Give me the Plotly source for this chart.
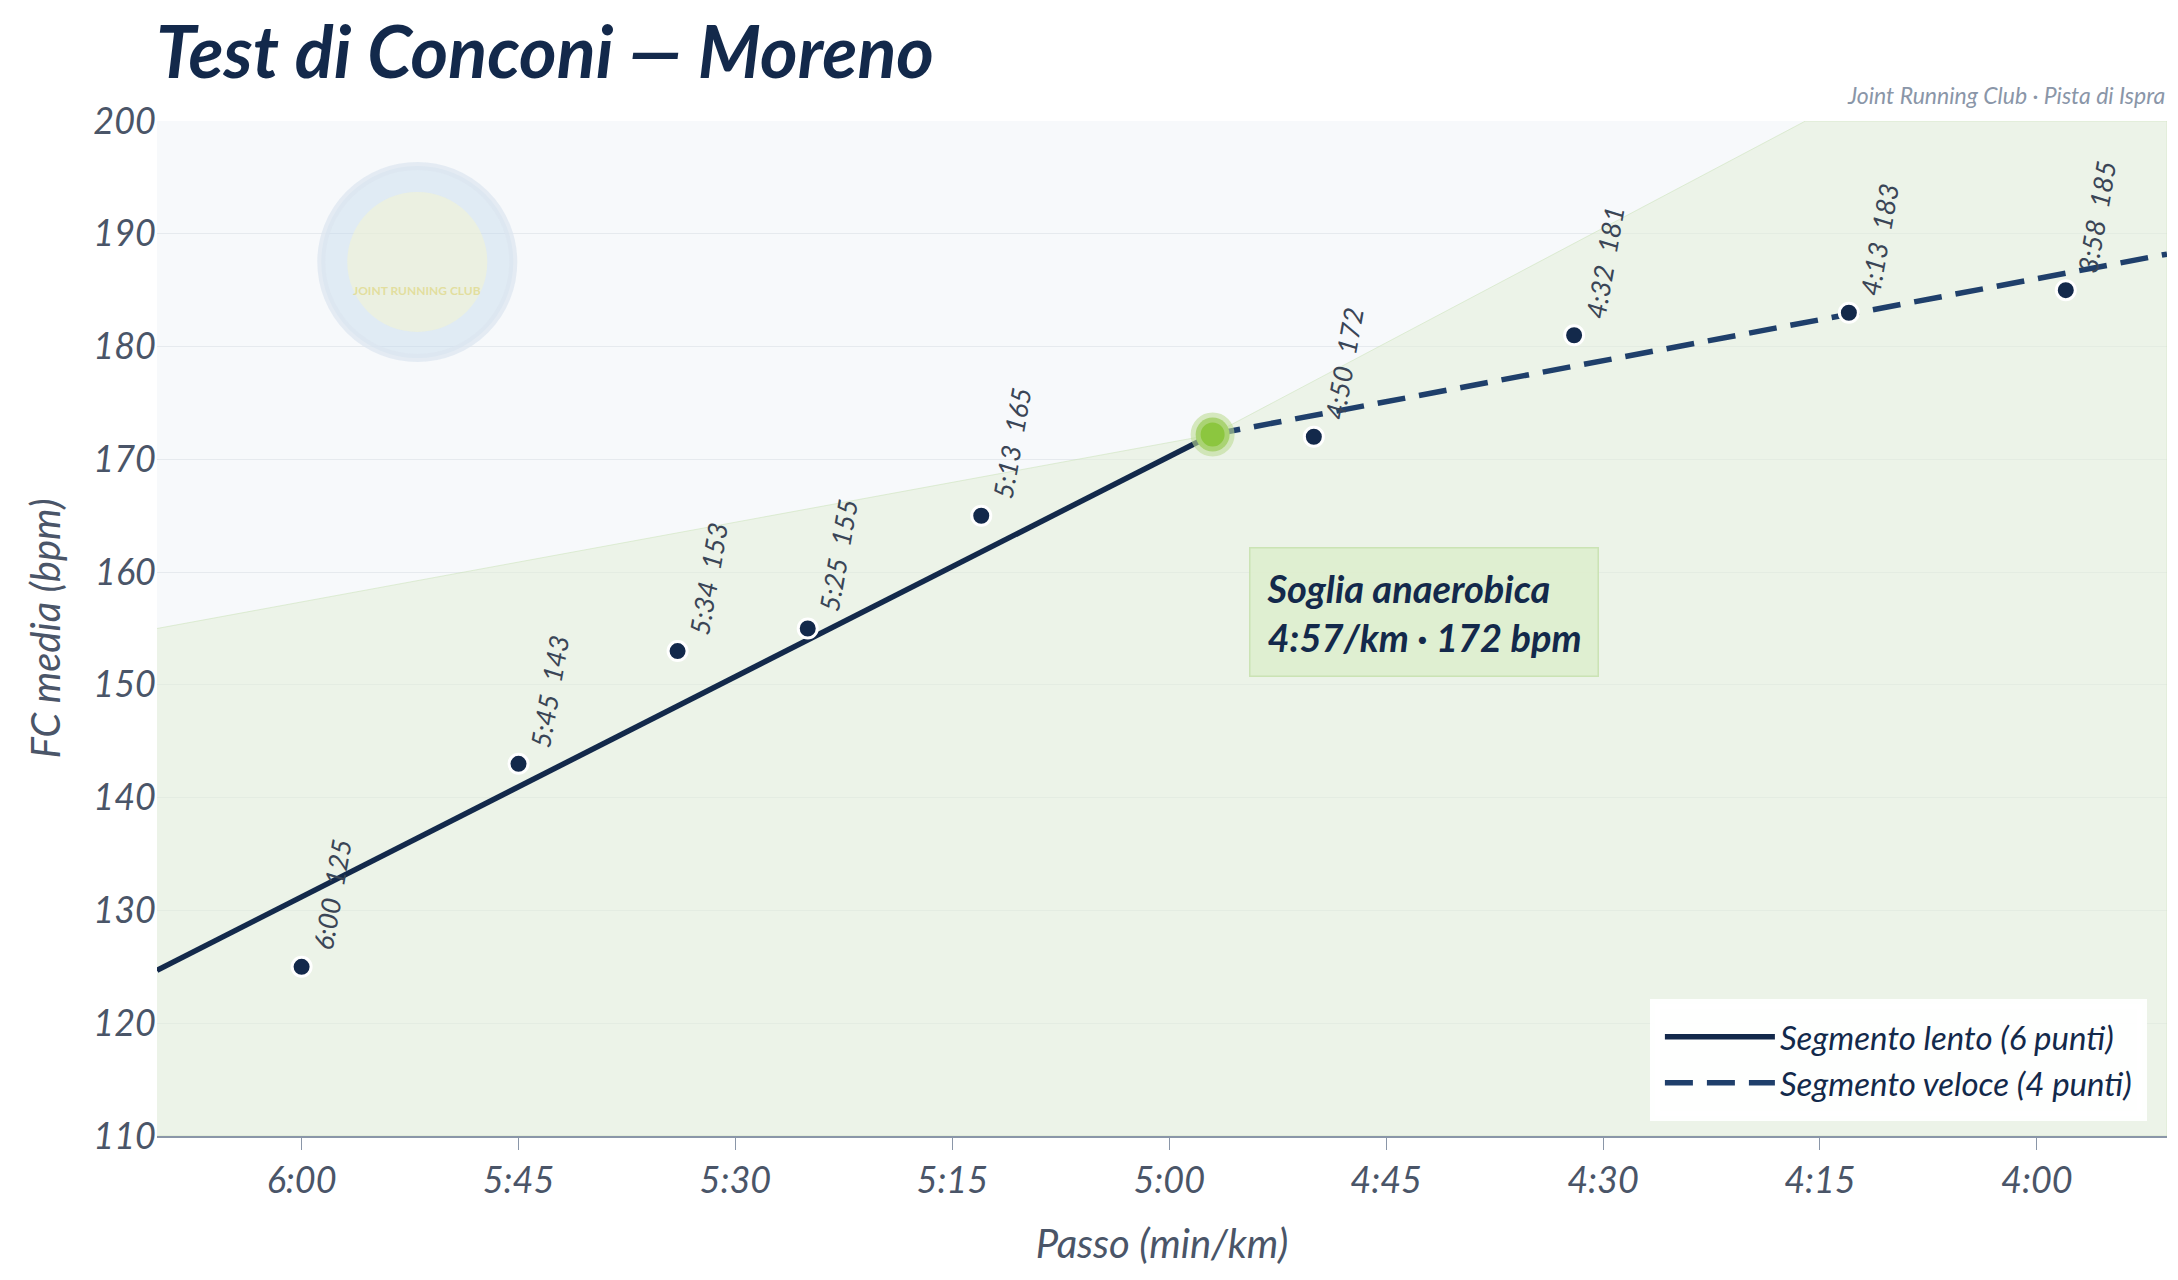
import plotly.graph_objects as go

paces = ["6:00", "5:45", "5:34", "5:25", "5:13", "4:50", "4:32", "4:13", "3:58"]
hr = [125, 143, 153, 155, 165, 172, 181, 183, 185]
tick_labels = ["6:00", "5:45", "5:30", "5:15", "5:00", "4:45", "4:30", "4:15", "4:00"]
threshold_pace = "4:57"
threshold_hr = 172.2
slow_line_x = ["6:10", "4:57"]
slow_line_y = [124.7, 172.2]
fast_line_x = ["4:57", "3:51"]
fast_line_y = [172.2, 188.2]
zone_x = ["6:10", "4:57", "4:16", "3:51"]
zone_y = [155, 172.2, 200, 200]

def sec(p):
    m, s = p.split(":")
    return int(m) * 60 + int(s)

xs = [sec(p) for p in paces]
tick_vals = [sec(t) for t in tick_labels]
FONT = "Lato"
NAVY = "#13294b"

fig = go.Figure()
zx = [sec(p) for p in zone_x]
fig.add_trace(go.Scatter(x=zx + [zx[-1], zx[0]], y=zone_y + [110, 110], fill="toself",
                         fillcolor="rgba(226,238,214,0.5)", line=dict(color="rgba(200,225,180,0.5)", width=1),
                         mode="lines", showlegend=False, hoverinfo="skip"))
fig.add_trace(go.Scatter(x=[sec(p) for p in slow_line_x], y=slow_line_y, mode="lines",
                         line=dict(color=NAVY, width=5.5), name="Segmento lento (6 punti)"))
fig.add_trace(go.Scatter(x=[sec(p) for p in fast_line_x], y=fast_line_y, mode="lines",
                         line=dict(color="#1f3f6b", width=5.5, dash="28px,14px"), name="Segmento veloce (4 punti)"))
fig.add_trace(go.Scatter(x=xs, y=hr, mode="markers", showlegend=False,
                         marker=dict(color=NAVY, size=19, line=dict(color="white", width=3))))
fig.add_trace(go.Scatter(x=[sec(threshold_pace)], y=[threshold_hr], mode="markers", showlegend=False,
                         marker=dict(color="#8cc63f", size=34, line=dict(color="rgba(190,220,150,0.6)", width=10))))

for x, y, p in zip(xs, hr, paces):
    fig.add_annotation(x=x, y=y, text=f"{p}  {y}", showarrow=False, textangle=-80,
                       xanchor="left", yanchor="bottom", xshift=2, yshift=12,
                       font=dict(family=FONT, size=27, color="#3a4556", style="italic"))

fig.add_annotation(x=sec("4:57") - 2.5, y=156.5, text="<b><i>Soglia anaerobica<br>4:57/km · 172 bpm</i></b>",
                   showarrow=False, xanchor="left", align="left", bgcolor="rgba(222,238,206,0.9)",
                   bordercolor="rgba(200,225,175,0.9)", borderwidth=1.5, borderpad=16,
                   font=dict(family=FONT, size=38, color=NAVY))

fig.add_annotation(xref="paper", yref="paper", x=1, y=1.01, xanchor="right", yanchor="bottom",
                   text="<i>Joint Running Club · Pista di Ispra</i>", showarrow=False,
                   font=dict(family=FONT, size=23, color="#8a96a8"))

# faint logo
LOGO_X = 352
fig.add_shape(type="circle", xref="x", yref="y", xsizemode="pixel", ysizemode="pixel",
              xanchor=LOGO_X, yanchor=187.5, x0=-96, x1=96, y0=-96, y1=96,
              fillcolor="rgba(195,218,236,0.45)", line=dict(color="rgba(220,230,240,0.7)", width=8))
fig.add_shape(type="circle", xref="x", yref="y", xsizemode="pixel", ysizemode="pixel",
              xanchor=LOGO_X, yanchor=187.5, x0=-70, x1=70, y0=-70, y1=70,
              fillcolor="rgba(245,245,205,0.5)", line=dict(width=0))
fig.add_annotation(x=LOGO_X, y=185, text="<b>JOINT RUNNING CLUB</b>", showarrow=False,
                   font=dict(family=FONT, size=12, color="rgba(225,220,150,0.9)"))

fig.update_layout(
    width=2178, height=1280,
    paper_bgcolor="white", plot_bgcolor="#f7f9fb",
    margin=dict(l=149, r=19, t=113, b=152),
    title=dict(text="<b><i>Test di Conconi — Moreno</i></b>", x=0.068, xanchor="left", y=0.985, yanchor="top",
               font=dict(family=FONT, size=72, color=NAVY)),
    xaxis=dict(range=[370, 231], tickvals=tick_vals, ticktext=tick_labels, showgrid=False,
               ticks="outside", ticklen=12, tickcolor="#8a96a8", showline=True, linecolor="#8a96a8", linewidth=2,
               tickfont=dict(family=FONT, size=36, color="#4a5568", style="italic"),
               title=dict(text="<i>Passo (min/km)</i>", font=dict(family=FONT, size=40, color="#4a5568"), standoff=30)),
    yaxis=dict(range=[110, 200], dtick=10, gridcolor="#e6eaee", zeroline=False,
               tickfont=dict(family=FONT, size=36, color="#4a5568", style="italic"),
               title=dict(text="<i>FC media (bpm)</i>", font=dict(family=FONT, size=40, color="#4a5568"), standoff=20)),
    legend=dict(x=0.99, y=0.015, xanchor="right", yanchor="bottom", bgcolor="rgba(255,255,255,0.95)",
                font=dict(family=FONT, size=33, color=NAVY, style="italic"), itemwidth=110,
                borderwidth=10, bordercolor="rgba(255,255,255,0.95)"),
)
fig.write_html("out.html")
